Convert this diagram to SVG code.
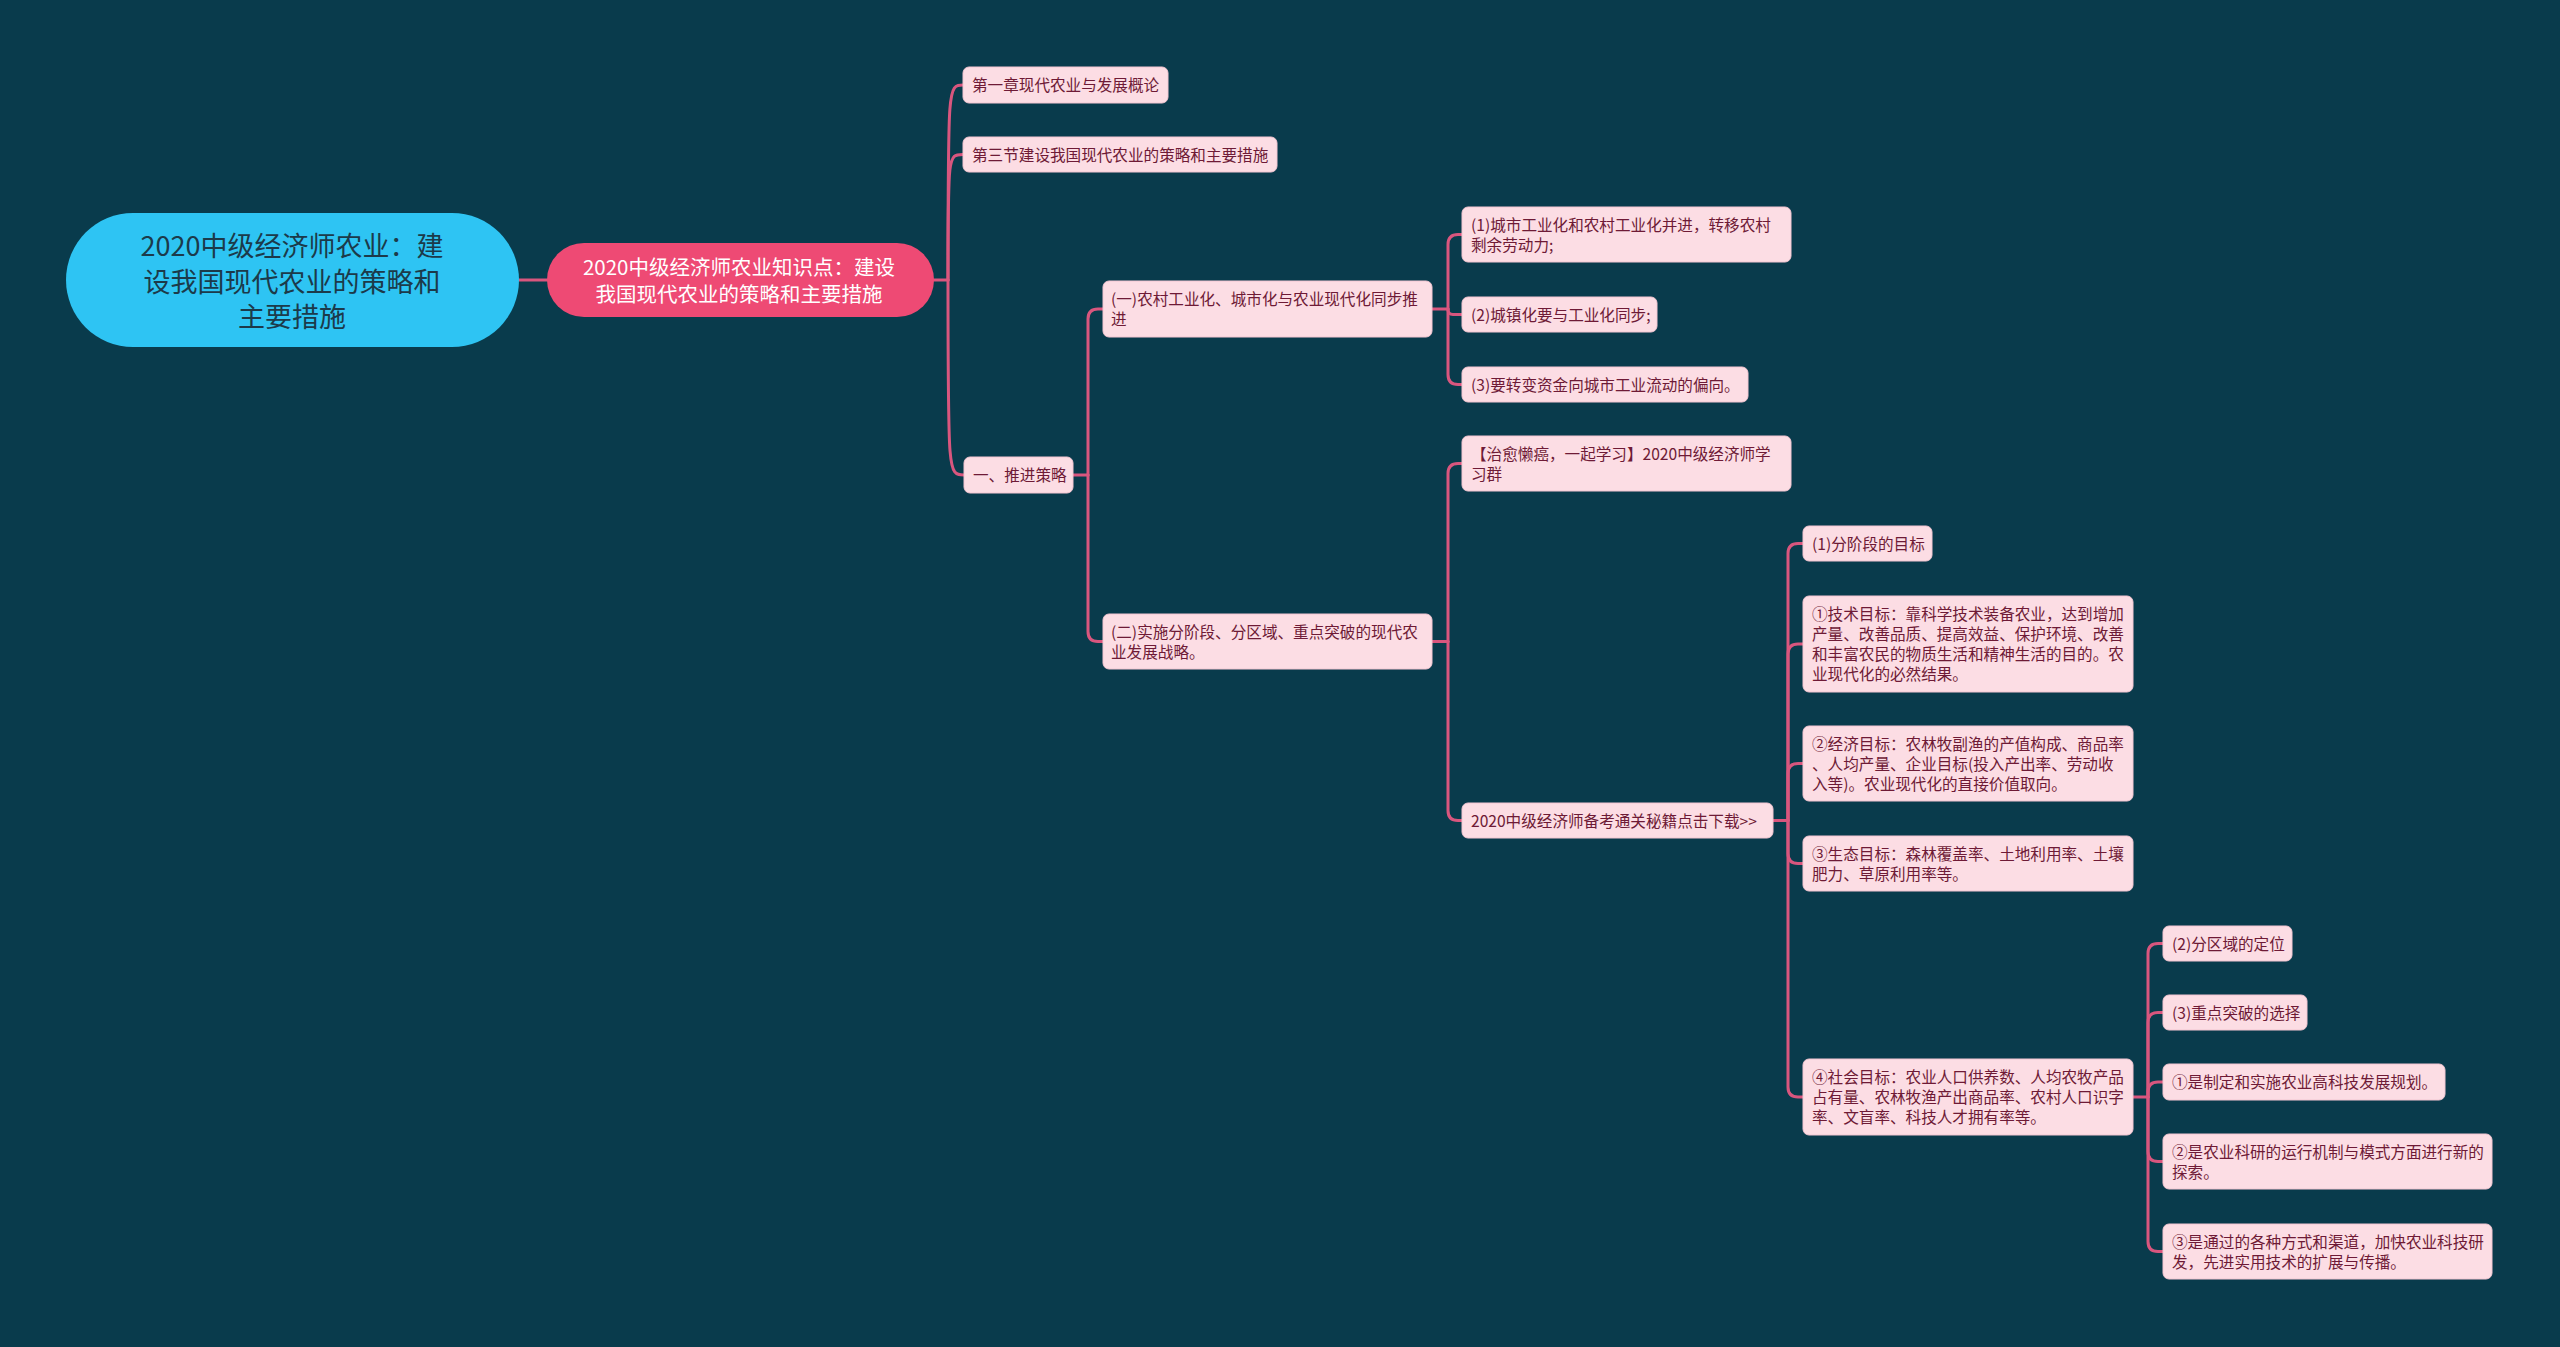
<svg xmlns="http://www.w3.org/2000/svg" width="2560" height="1347" viewBox="0 0 2560 1347">
<style>
.bg{fill:#093b4c}
.c{fill:none;stroke:#d9567e;stroke-width:3;stroke-linecap:round;stroke-linejoin:round}
.n rect{fill:#fcdde4;stroke:#f3c6d2;stroke-width:1}
.n text{font-family:"Noto Sans CJK SC","Noto Sans",sans-serif;font-size:15.6px;fill:#6e1a36}
.root rect{fill:#2ec4f3}
.root text{font-family:"Noto Sans CJK SC","Noto Sans",sans-serif;font-size:27px;fill:#1c3a4a;text-anchor:middle}
.l1 rect{fill:#ee4a74}
.l1 text{font-family:"Noto Sans CJK SC","Noto Sans",sans-serif;font-size:20.5px;fill:#ffffff;text-anchor:middle}
</style>
<rect class="bg" x="0" y="0" width="2560" height="1347"/>
<g id="connectors">
<path class="c" d="M519,280 H547"/>
<path class="c" d="M934,280 H948"/>
<path class="c" d="M948,280 C948,85 948,85 963,85"/>
<path class="c" d="M948,280 C948,154.5 948,154.5 963,154.5"/>
<path class="c" d="M948,280 C948,475 948,475 964,475"/>
<path class="c" d="M1073,475 H1088"/>
<path class="c" d="M1088,475 V319 Q1088,309 1098,309 H1103"/>
<path class="c" d="M1088,475 V631.5 Q1088,641.5 1098,641.5 H1103"/>
<path class="c" d="M1432,309 H1448"/>
<path class="c" d="M1448,309 V244.5 Q1448,234.5 1458,234.5 H1462"/>
<path class="c" d="M1448,309 V309.5 Q1448,314.5 1453,314.5 H1462"/>
<path class="c" d="M1448,309 V374.5 Q1448,384.5 1458,384.5 H1462"/>
<path class="c" d="M1432,641.5 H1448"/>
<path class="c" d="M1448,641.5 V473.5 Q1448,463.5 1458,463.5 H1462"/>
<path class="c" d="M1448,641.5 V810.5 Q1448,820.5 1458,820.5 H1462"/>
<path class="c" d="M1773,820.5 H1788"/>
<path class="c" d="M1788,820.5 V553.5 Q1788,543.5 1798,543.5 H1803"/>
<path class="c" d="M1788,820.5 V654 Q1788,644 1798,644 H1803"/>
<path class="c" d="M1788,820.5 V773.5 Q1788,763.5 1798,763.5 H1803"/>
<path class="c" d="M1788,820.5 V853.5 Q1788,863.5 1798,863.5 H1803"/>
<path class="c" d="M1788,820.5 V1087 Q1788,1097 1798,1097 H1803"/>
<path class="c" d="M2133,1097 H2148"/>
<path class="c" d="M2148,1097 V953.5 Q2148,943.5 2158,943.5 H2163"/>
<path class="c" d="M2148,1097 V1022.5 Q2148,1012.5 2158,1012.5 H2163"/>
<path class="c" d="M2148,1097 V1092 Q2148,1082 2158,1082 H2163"/>
<path class="c" d="M2148,1097 V1151.5 Q2148,1161.5 2158,1161.5 H2163"/>
<path class="c" d="M2148,1097 V1241.5 Q2148,1251.5 2158,1251.5 H2163"/>
</g>
<g id="root" class="root">
<rect x="66" y="213" width="453" height="134" rx="67"/>
<text x="292" y="256">2020中级经济师农业：建</text>
<text x="292" y="292">设我国现代农业的策略和</text>
<text x="292" y="327">主要措施</text>
</g>
<g id="topic" class="l1">
<rect x="547" y="243" width="387" height="74" rx="37"/>
<text x="739" y="275">2020中级经济师农业知识点：建设</text>
<text x="739" y="302">我国现代农业的策略和主要措施</text>
</g>
<g id="n-ch1" class="n"><rect x="963" y="67" width="205" height="36" rx="6"/><text x="972" y="91">第一章现代农业与发展概论</text></g>
<g id="n-sec3" class="n"><rect x="963" y="137" width="314" height="35" rx="6"/><text x="972" y="161">第三节建设我国现代农业的策略和主要措施</text></g>
<g id="n-strategy" class="n"><rect x="964" y="457" width="109" height="36" rx="6"/><text x="973" y="481">一、推进策略</text></g>
<g id="n-1" class="n"><rect x="1103" y="281" width="329" height="56" rx="6"/><text x="1111" y="305">(一)农村工业化、城市化与农业现代化同步推</text><text x="1111" y="325">进</text></g>
<g id="n-2" class="n"><rect x="1103" y="614" width="329" height="55" rx="6"/><text x="1111" y="638">(二)实施分阶段、分区域、重点突破的现代农</text><text x="1111" y="658">业发展战略。</text></g>
<g id="n-1-1" class="n"><rect x="1462" y="207" width="329" height="55" rx="6"/><text x="1471" y="231">(1)城市工业化和农村工业化并进，转移农村</text><text x="1471" y="251">剩余劳动力;</text></g>
<g id="n-1-2" class="n"><rect x="1462" y="297" width="195" height="35" rx="6"/><text x="1471" y="321">(2)城镇化要与工业化同步;</text></g>
<g id="n-1-3" class="n"><rect x="1462" y="367" width="286" height="35" rx="6"/><text x="1471" y="391">(3)要转变资金向城市工业流动的偏向。</text></g>
<g id="n-group" class="n"><rect x="1462" y="436" width="329" height="55" rx="6"/><text x="1471" y="460">【治愈懒癌，一起学习】2020中级经济师学</text><text x="1471" y="480">习群</text></g>
<g id="n-download" class="n"><rect x="1462" y="803" width="311" height="35" rx="6"/><text x="1471" y="827">2020中级经济师备考通关秘籍点击下载&gt;&gt;</text></g>
<g id="n-stage" class="n"><rect x="1803" y="526" width="129" height="35" rx="6"/><text x="1812" y="550">(1)分阶段的目标</text></g>
<g id="n-tech" class="n"><rect x="1803" y="596" width="330" height="96" rx="6"/><text x="1812" y="620">①技术目标：靠科学技术装备农业，达到增加</text><text x="1812" y="640">产量、改善品质、提高效益、保护环境、改善</text><text x="1812" y="660">和丰富农民的物质生活和精神生活的目的。农</text><text x="1812" y="680">业现代化的必然结果。</text></g>
<g id="n-econ" class="n"><rect x="1803" y="726" width="330" height="75" rx="6"/><text x="1812" y="750">②经济目标：农林牧副渔的产值构成、商品率</text><text x="1812" y="770">、人均产量、企业目标(投入产出率、劳动收</text><text x="1812" y="790">入等)。农业现代化的直接价值取向。</text></g>
<g id="n-eco" class="n"><rect x="1803" y="836" width="330" height="55" rx="6"/><text x="1812" y="860">③生态目标：森林覆盖率、土地利用率、土壤</text><text x="1812" y="880">肥力、草原利用率等。</text></g>
<g id="n-social" class="n"><rect x="1803" y="1059" width="330" height="76" rx="6"/><text x="1812" y="1083">④社会目标：农业人口供养数、人均农牧产品</text><text x="1812" y="1103">占有量、农林牧渔产出商品率、农村人口识字</text><text x="1812" y="1123">率、文盲率、科技人才拥有率等。</text></g>
<g id="n-region" class="n"><rect x="2163" y="926" width="129" height="35" rx="6"/><text x="2172" y="950">(2)分区域的定位</text></g>
<g id="n-key" class="n"><rect x="2163" y="995" width="144" height="35" rx="6"/><text x="2172" y="1019">(3)重点突破的选择</text></g>
<g id="n-k1" class="n"><rect x="2163" y="1064" width="282" height="36" rx="6"/><text x="2172" y="1088">①是制定和实施农业高科技发展规划。</text></g>
<g id="n-k2" class="n"><rect x="2163" y="1134" width="329" height="55" rx="6"/><text x="2172" y="1158">②是农业科研的运行机制与模式方面进行新的</text><text x="2172" y="1178">探索。</text></g>
<g id="n-k3" class="n"><rect x="2163" y="1224" width="329" height="55" rx="6"/><text x="2172" y="1248">③是通过的各种方式和渠道，加快农业科技研</text><text x="2172" y="1268">发，先进实用技术的扩展与传播。</text></g>
</svg>
